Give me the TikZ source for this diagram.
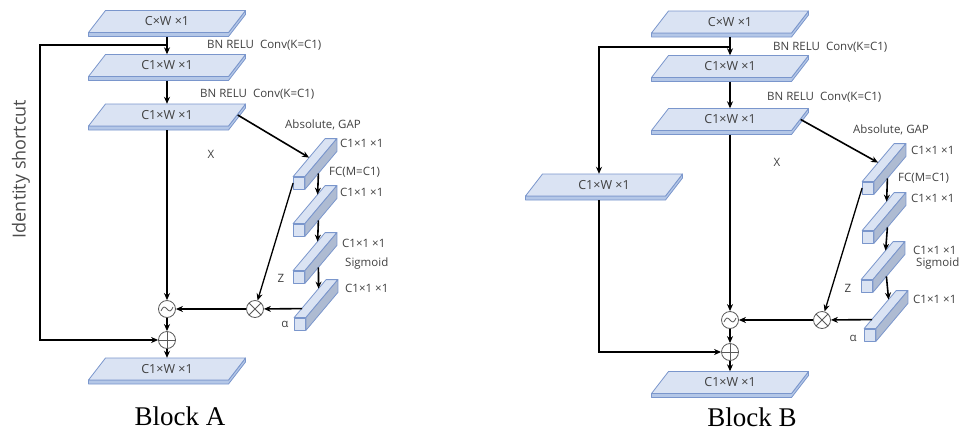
\documentclass[tikz,border=0pt]{standalone}
\usepackage{fontspec}
\usepackage{tikz}
\usetikzlibrary{calc, positioning, arrows, arrows.meta}
\newfontfamily\sansfam{Open Sans}
\newfontfamily\serfam{Liberation Serif}
\newcommand{\slabfont}{\sansfam\fontsize{12.5}{14}\selectfont}
\newcommand{\notefont}{\sansfam\fontsize{11.5}{13}\selectfont}
\definecolor{slabtop}{HTML}{DAE3F3}
\definecolor{slabedge}{HTML}{7A96CC}
\definecolor{slabside}{HTML}{B4C7E7}
\definecolor{barside}{HTML}{AEBBD2}
\definecolor{inkgray}{HTML}{404040}
\tikzstyle{slabtext}=[rectangle, minimum width=157, minimum height=22, inner sep=0pt,
  text=inkgray, font=\slabfont]
\tikzstyle{face}=[draw=slabedge, line width=0.8pt, line join=round]
\tikzstyle{barfront}=[rectangle, face, fill=slabtop, minimum width=11,
  minimum height=12, inner sep=0pt]
\tikzstyle{op}=[circle, draw=black!65, fill=white, minimum size=17, inner sep=0pt, line width=0.8pt]
\tikzstyle{note}=[font=\notefont, text=inkgray, inner sep=0pt]
\tikzstyle{flow}=[->, line width=1.6pt]
\tikzset{>={Stealth[length=7pt, width=6pt]}}
\tikzset{
  oplus/.style={op, path picture={
    \draw[black!65, line width=0.8pt] (path picture bounding box.north) -- (path picture bounding box.south)
      (path picture bounding box.west) -- (path picture bounding box.east);}},
  otimes/.style={op, path picture={
    \draw[black!65, line width=0.8pt] (path picture bounding box.center) +(45:10) -- +(225:10)
      +(135:10) -- +(-45:10);}},
  otilde/.style={op, path picture={
    \draw[black!65, line width=0.8pt, shift={(path picture bounding box.center)}]
      (-6,2) sin (-3,-2) cos (0,0) sin (3,2) cos (6,-2);}}
}
% a C1xWx1 feature map: slanted slab with a thin edge below
\newcommand{\slab}[4]{%
  \begin{scope}[shift={(#2,#3)}]
    \filldraw[face, fill=slabside] (-78.5,11) -- (61.5,11) -- (78.5,-11) -- (78.5,-7)
      -- (61.5,15) -- (-78.5,15) -- cycle;
    \filldraw[face, fill=slabtop] (-78.5,11) -- (61.5,11) -- (78.5,-11) -- (-61.5,-11) -- cycle;
  \end{scope}
  \node[slabtext] (#1) at (#2,#3) {#4};
}
% a 1x1 channel bar seen from its end: front, top and side faces
\newcommand{\chanbar}[3]{%
  \node[barfront] (#1) at (#2,#3) {};
  \filldraw[face, fill=slabtop] (#1.north west) -- ++(32,-38)
    -- ([shift={(32,-38)}]#1.north east) -- (#1.north east) -- cycle;
  \filldraw[face, fill=barside] (#1.north east) -- ([shift={(32,-38)}]#1.north east)
    -- ([shift={(32,-38)}]#1.south east) -- (#1.south east) -- cycle;
}

\begin{document}
\begin{tikzpicture}[x=1pt, y=-1pt]
\useasboundingbox (0,0) rectangle (963,432);

%%% Block A
\slab{TA0}{167}{21.5}{C×W ×1}
\slab{TA1}{167}{65.5}{C1×W ×1}
\slab{TA2}{167}{115}{C1×W ×1}
\slab{TA3}{167}{369}{C1×W ×1}
\chanbar{a1}{299}{183}
\chanbar{a2}{299}{230}
\chanbar{a3}{299}{277}
\chanbar{a4}{300}{324}
\node[otilde] (tA) at (167,309) {};
\node[otimes] (xA) at (255,309) {};
\node[oplus] (pA) at (167,340) {};
\coordinate (jA) at (167,45);
\coordinate (cA) at (40,45);

\draw[flow, shorten <=4pt] (TA0.south) -- (TA1.north);
\draw[flow, shorten <=4pt] (TA1.south) -- (TA2.north);
\draw[flow] (jA) -- (cA) |- (pA);
\draw[flow, shorten <=4pt] (TA2.south) -- (tA);
\draw[flow] ([xshift=-8]TA2.east) -- ([shift={(16,-19)}]a1.north west);
\draw[flow] ([shift={(13.5,-16)}]a1.south east) -- ([shift={(24.5,-29)}]a2.north west);
\draw[flow] ([shift={(13.5,-16)}]a2.south east) -- ([shift={(24.5,-29)}]a3.north west);
\draw[flow] ([shift={(13.5,-16)}]a3.south east) -- ([shift={(24.5,-29)}]a4.north west);
\draw[->, line width=1.3pt] (a1.west) -- (xA);
\draw[flow] ([shift={(8,-9)}]a4.north west) -- (xA);
\draw[flow] (xA) -- (tA);
\draw[flow] (tA) -- (pA);
\draw[flow] (pA) -- (TA3.north);

\node[note, anchor=west] (nA1) at (207,45) {BN RELU\ \ Conv(K=C1)};
\node[note, anchor=west] (nA2) at (200,94) {BN RELU\ \ Conv(K=C1)};
\node[note] (xlA) at (211,154) {X};
\node[note, anchor=west] (gA) at (285,125) {Absolute, GAP};
\node[note, anchor=west] (sA1) at (340,143) {C1×1 ×1};
\node[note, anchor=west] (fA) at (329,172) {FC(M=C1)};
\node[note, anchor=west] (sA2) at (340,192) {C1×1 ×1};
\node[note, anchor=west] (sA3) at (342,243) {C1×1 ×1};
\node[note, anchor=west] (gmA) at (345,264) {Sigmoid};
\node[note, anchor=west] (sA4) at (345,288) {C1×1 ×1};
\node[note] (zA) at (281,278) {Z};
\node[note] (alA) at (285,324) {α};
\node[rotate=90, font=\sansfam\fontsize{18}{20}\selectfont, text=black!70] (idA) at (21,169) {Identity shortcut};
\node[font=\serfam\fontsize{27}{30}\selectfont] (bA) at (180,416) {Block A};

%%% Block B
\slab{TB0}{730}{22}{C×W ×1}
\slab{TB1}{730}{66.5}{C1×W ×1}
\slab{TB2}{730}{119.5}{C1×W ×1}
\slab{SB}{604}{185}{C1×W ×1}
\slab{TB3}{730}{382.5}{C1×W ×1}
\chanbar{b1}{868}{188}
\chanbar{b2}{868}{237}
\chanbar{b3}{867}{286}
\chanbar{b4}{870}{335}
\node[otilde] (tB) at (730,320) {};
\node[otimes] (xB) at (822,320) {};
\node[oplus] (pB) at (730,352) {};
\coordinate (jB) at (730,47);

\draw[flow, shorten <=4pt] (TB0.south) -- (TB1.north);
\draw[flow, shorten <=4pt] (TB1.south) -- (TB2.north);
\draw[flow] (jB) -| ([xshift=-5]SB.north);
\draw[flow, shorten <=4pt] ([xshift=-5]SB.south) |- (pB);
\draw[flow, shorten <=4pt] (TB2.south) -- (tB);
\draw[flow] ([xshift=-8]TB2.east) -- ([shift={(16,-19)}]b1.north west);
\draw[flow] ([shift={(13.5,-16)}]b1.south east) -- ([shift={(24.5,-29)}]b2.north west);
\draw[flow] ([shift={(13.5,-16)}]b2.south east) -- ([shift={(24.5,-29)}]b3.north west);
\draw[flow] ([shift={(13.5,-16)}]b3.south east) -- ([shift={(24.5,-29)}]b4.north west);
\draw[->, line width=1.3pt] (b1.west) -- (xB);
\draw[flow] ([shift={(8,-9)}]b4.north west) -- (xB);
\draw[flow] (xB) -- (tB);
\draw[flow] (tB) -- (pB);
\draw[flow] (pB) -- (TB3.north);

\node[note, anchor=west] (nB1) at (773,47) {BN RELU\ \ Conv(K=C1)};
\node[note, anchor=west] (nB2) at (767,97) {BN RELU\ \ Conv(K=C1)};
\node[note] (xlB) at (777,162) {X};
\node[note, anchor=west] (gB) at (853,130) {Absolute, GAP};
\node[note, anchor=west] (sB1) at (911,150) {C1×1 ×1};
\node[note, anchor=west] (fB) at (898,178) {FC(M=C1)};
\node[note, anchor=west] (sB2) at (911,198) {C1×1 ×1};
\node[note, anchor=west] (sB3) at (913,250) {C1×1 ×1};
\node[note, anchor=west] (gmB) at (916,264) {Sigmoid};
\node[note, anchor=west] (sB4) at (913,299) {C1×1 ×1};
\node[note] (zB) at (848,288) {Z};
\node[note] (alB) at (853,338) {α};
\node[font=\serfam\fontsize{27}{30}\selectfont] (bB) at (752,417) {Block B};
\end{tikzpicture}
\end{document}
